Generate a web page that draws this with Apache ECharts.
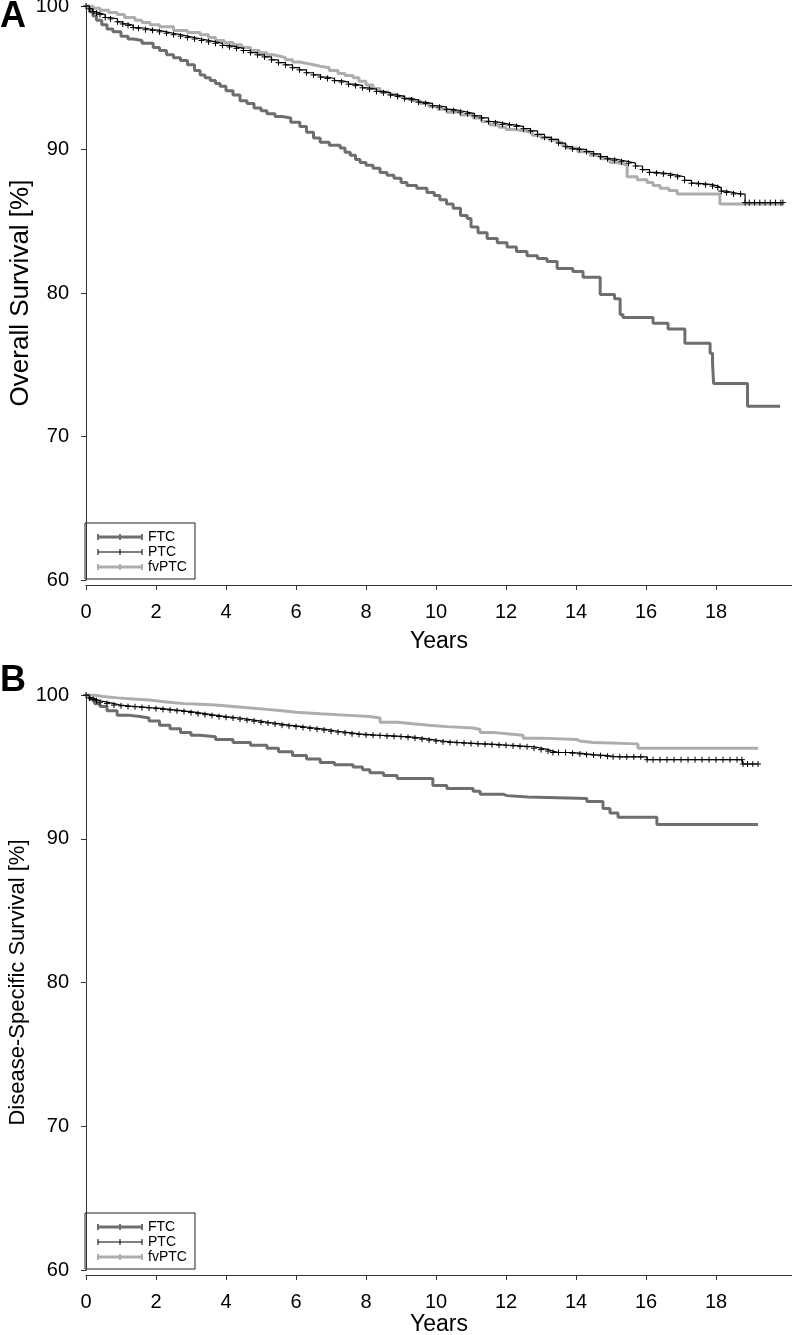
<!DOCTYPE html>
<html>
<head>
<meta charset="utf-8">
<script src="https://cdn.jsdelivr.net/npm/echarts@6/dist/echarts.min.js"></script>
<style>
  html, body { margin: 0; padding: 0; background: #fff; }
  #chart { width: 792px; height: 1335px; }
</style>
</head>
<body>
<div id="chart"></div>
<script>
// ---------- DATA ----------
const seriesNames = ['FTC', 'PTC', 'fvPTC'];
const xTicks = [0, 2, 4, 6, 8, 10, 12, 14, 16, 18];

// Panel A: Overall survival [%] vs years  ([years, survival])
const ftcOS = [[0,100],[0.1,99.6],[0.2,99.3],[0.3,99.0],[0.45,98.7],[0.6,98.4],[0.77,98.2],[1.0,97.9],[1.2,97.7],[1.35,97.6],[1.6,97.4],[1.92,97.1],[2.1,96.9],[2.3,96.6],[2.5,96.4],[2.7,96.2],[2.9,95.9],[3.1,95.5],[3.26,95.2],[3.4,95.0],[3.55,94.8],[3.7,94.6],[3.83,94.4],[4.0,94.1],[4.2,93.8],[4.4,93.4],[4.6,93.2],[4.8,92.9],[5.0,92.7],[5.17,92.5],[5.4,92.3],[5.6,92.2],[5.85,91.9],[6.11,91.6],[6.3,91.2],[6.5,90.8],[6.69,90.5],[6.95,90.3],[7.26,90.1],[7.4,89.8],[7.55,89.6],[7.7,89.3],[7.83,89.1],[8.0,88.9],[8.2,88.7],[8.4,88.4],[8.6,88.2],[8.8,88.0],[9.0,87.7],[9.17,87.5],[9.45,87.3],[9.74,87.0],[9.95,86.8],[10.11,86.5],[10.3,86.2],[10.49,85.9],[10.7,85.4],[10.89,85.2],[11.0,84.6],[11.2,84.2],[11.46,83.8],[11.75,83.5],[12.03,83.2],[12.3,82.9],[12.6,82.6],[12.9,82.4],[13.17,82.2],[13.46,81.7],[13.91,81.5],[14.2,81.1],[14.69,79.9],[15.1,79.6],[15.26,78.5],[15.34,78.3],[16.2,77.9],[16.63,77.5],[17.11,76.5],[17.83,75.8],[17.9,75.1],[17.93,73.7],[18.9,72.1],[19.83,72.1]];
const ptcOS = [[0,100],[0.1,99.8],[0.2,99.6],[0.3,99.5],[0.4,99.4],[0.55,99.2],[0.7,99.1],[0.9,98.9],[1.05,98.75],[1.2,98.65],[1.35,98.5],[1.5,98.45],[1.7,98.35],[1.9,98.3],[2.1,98.2],[2.3,98.1],[2.5,98.0],[2.7,97.9],[2.9,97.8],[3.1,97.7],[3.3,97.6],[3.5,97.5],[3.7,97.4],[3.9,97.25],[4.1,97.15],[4.3,97.05],[4.5,96.9],[4.7,96.75],[4.9,96.6],[5.1,96.45],[5.3,96.25],[5.5,96.05],[5.7,95.9],[5.9,95.7],[6.1,95.55],[6.3,95.35],[6.5,95.2],[6.7,95.05],[6.9,94.95],[7.1,94.8],[7.3,94.7],[7.5,94.55],[7.7,94.45],[7.9,94.3],[8.1,94.2],[8.3,94.05],[8.5,93.95],[8.7,93.8],[8.9,93.7],[9.1,93.55],[9.3,93.45],[9.5,93.3],[9.7,93.2],[9.9,93.05],[10.1,92.95],[10.3,92.8],[10.5,92.7],[10.7,92.6],[10.9,92.5],[11.1,92.35],[11.3,92.2],[11.5,91.95],[11.7,91.85],[11.9,91.75],[12.1,91.7],[12.3,91.6],[12.5,91.45],[12.7,91.3],[12.9,91.05],[13.1,90.85],[13.3,90.7],[13.5,90.45],[13.7,90.2],[13.9,90.05],[14.1,90.0],[14.3,89.85],[14.5,89.7],[14.7,89.5],[14.9,89.35],[15.1,89.25],[15.3,89.15],[15.5,89.05],[15.7,88.85],[15.9,88.6],[16.1,88.4],[16.3,88.35],[16.5,88.3],[16.7,88.2],[16.9,88.1],[17.1,87.85],[17.3,87.65],[17.5,87.6],[17.7,87.55],[17.9,87.45],[18.05,87.35],[18.15,87.1],[18.3,87.0],[18.5,86.9],[18.7,86.9],[18.83,86.3],[18.95,86.3],[19.1,86.3],[19.25,86.3],[19.4,86.3],[19.55,86.3],[19.7,86.3],[19.85,86.3],[19.91,86.3]];
const fvptcOS = [[0,100],[0.2,99.85],[0.4,99.7],[0.65,99.55],[0.89,99.4],[1.1,99.2],[1.4,99.0],[1.6,98.85],[1.83,98.7],[2.1,98.55],[2.5,98.3],[2.9,98.15],[3.26,98.0],[3.5,97.8],[3.7,97.6],[3.95,97.45],[4.2,97.3],[4.45,97.1],[4.7,96.9],[4.95,96.75],[5.17,96.6],[5.35,96.5],[5.54,96.4],[5.7,96.25],[5.9,96.1],[6.1,96.0],[6.3,95.9],[6.5,95.8],[6.69,95.7],[6.95,95.5],[7.2,95.3],[7.4,95.15],[7.63,95.0],[7.8,94.75],[8.0,94.5],[8.2,94.25],[8.4,94.0],[8.65,93.85],[8.9,93.7],[9.1,93.55],[9.34,93.4],[9.55,93.2],[9.8,93.0],[10.05,92.8],[10.31,92.6],[10.7,92.4],[11.06,92.2],[11.3,91.95],[11.54,91.7],[11.8,91.55],[12.0,91.4],[12.25,91.3],[12.49,91.2],[12.75,91.0],[13.0,90.8],[13.25,90.65],[13.46,90.5],[13.6,90.3],[13.74,90.1],[14.05,89.85],[14.4,89.6],[14.7,89.35],[14.97,89.1],[15.15,89.0],[15.34,88.9],[15.46,88.1],[15.75,87.9],[16.03,87.7],[16.2,87.5],[16.4,87.3],[16.65,87.15],[16.89,86.9],[18.11,86.2],[19.91,86.2]];

// Panel B: Disease-specific survival [%] vs years
const ftcDSS = [[0,100],[0.1,99.7],[0.25,99.4],[0.4,99.2],[0.6,98.9],[0.89,98.6],[1.2,98.5],[1.54,98.4],[1.8,98.2],[2.1,97.9],[2.4,97.65],[2.7,97.4],[3.0,97.2],[3.26,97.1],[3.7,96.9],[4.2,96.7],[4.7,96.5],[5.17,96.3],[5.5,96.05],[5.9,95.8],[6.3,95.55],[6.69,95.3],[7.1,95.15],[7.63,95.0],[7.9,94.8],[8.11,94.6],[8.5,94.4],[8.89,94.2],[9.91,93.7],[10.31,93.5],[11.06,93.3],[11.26,93.1],[11.91,93.0],[12.03,92.9],[12.63,92.8],[14.31,92.6],[14.77,92.1],[14.97,91.8],[15.2,91.5],[16.31,91.0],[19.2,91.0]];
const ptcDSS = [[0,100],[0.1,99.8],[0.2,99.7],[0.3,99.6],[0.4,99.5],[0.6,99.4],[0.8,99.3],[1.0,99.25],[1.2,99.2],[1.4,99.18],[1.6,99.13],[1.8,99.1],[2.0,99.05],[2.2,99.0],[2.4,98.95],[2.6,98.9],[2.8,98.85],[3.0,98.78],[3.2,98.7],[3.4,98.63],[3.6,98.57],[3.8,98.5],[4.0,98.45],[4.2,98.4],[4.4,98.32],[4.6,98.25],[4.8,98.18],[5.0,98.1],[5.2,98.05],[5.4,97.98],[5.6,97.9],[5.8,97.85],[6.0,97.8],[6.2,97.74],[6.4,97.68],[6.6,97.62],[6.8,97.56],[7.0,97.48],[7.2,97.42],[7.4,97.36],[7.6,97.3],[7.8,97.26],[8.0,97.22],[8.2,97.2],[8.4,97.18],[8.6,97.15],[8.8,97.12],[9.0,97.1],[9.2,97.05],[9.4,97.0],[9.6,96.93],[9.8,96.86],[10.0,96.8],[10.2,96.74],[10.4,96.7],[10.6,96.68],[10.8,96.65],[11.0,96.62],[11.2,96.6],[11.4,96.58],[11.6,96.55],[11.8,96.52],[12.0,96.5],[12.2,96.46],[12.4,96.43],[12.6,96.4],[12.8,96.3],[13.0,96.2],[13.2,96.1],[13.34,96.0],[13.5,96.0],[13.7,96.0],[13.9,95.95],[14.11,95.9],[14.3,95.85],[14.5,95.82],[14.7,95.78],[14.9,95.74],[15.06,95.7],[15.25,95.7],[15.45,95.7],[15.65,95.7],[15.85,95.7],[16.03,95.5],[16.2,95.5],[16.4,95.5],[16.6,95.5],[16.8,95.5],[17.0,95.5],[17.2,95.5],[17.4,95.5],[17.6,95.5],[17.8,95.5],[18.0,95.5],[18.2,95.5],[18.4,95.5],[18.6,95.5],[18.74,95.5],[18.77,95.2],[18.9,95.2],[19.05,95.2],[19.2,95.2]];
const fvptcDSS = [[0,100],[0.2,99.9],[0.5,99.8],[0.9,99.72],[1.35,99.65],[1.8,99.52],[2.3,99.4],[2.8,99.35],[3.26,99.3],[3.7,99.2],[4.2,99.1],[4.7,99.0],[5.17,98.9],[5.6,98.8],[6.0,98.7],[6.69,98.6],[7.4,98.5],[8.11,98.4],[8.4,98.1],[8.9,98.0],[9.34,97.9],[9.8,97.8],[10.31,97.7],[11.06,97.6],[11.26,97.4],[11.6,97.3],[12.03,97.2],[12.49,97.0],[12.97,96.9],[14.03,96.8],[14.11,96.7],[14.49,96.6],[15.77,96.3],[19.2,96.3]];

// ---------- STYLE ----------
const FONT = 'Liberation Sans, Arial, Helvetica, sans-serif';
const colors = { FTC: '#6e6e6e', PTC: '#000000', fvPTC: '#adadad' };
const widths = { FTC: 3, PTC: 1.2, fvPTC: 3 };
const plusSymbol = 'path://M0,5L10,5M5,0L5,10';

function xAxisCfg(gridIndex, labelMargin, nameGap) {
  return {
    type: 'value', gridIndex, min: 0, max: 20.17, offset: 5,
    name: 'Years', nameLocation: 'middle', nameGap, nameMoveOverlap: false,
    nameTextStyle: { fontFamily: FONT, fontSize: 23, color: '#000' },
    axisLine: { show: true, lineStyle: { color: '#333', width: 1 } },
    axisTick: { show: true, length: 5, customValues: xTicks, lineStyle: { color: '#333' } },
    axisLabel: { customValues: xTicks, margin: labelMargin, fontFamily: FONT, fontSize: 20, color: '#000' },
    splitLine: { show: false }
  };
}
function yAxisCfg(gridIndex, name, nameSize, nameGap) {
  return {
    type: 'value', gridIndex, min: 60, max: 100, interval: 10, offset: 5,
    name, nameLocation: 'middle', nameGap, nameMoveOverlap: false,
    nameTextStyle: { fontFamily: FONT, fontSize: nameSize, color: '#000' },
    axisLine: { show: true, lineStyle: { color: '#333', width: 1 } },
    axisTick: { show: true, length: 5, lineStyle: { color: '#333' } },
    axisLabel: { margin: 12, fontFamily: FONT, fontSize: 20, color: '#000' },
    splitLine: { show: false }
  };
}
function km(name, data, idx) {
  const isPTC = name === 'PTC';
  return {
    type: 'line', name, data, xAxisIndex: idx, yAxisIndex: idx,
    step: 'end', silent: true,
    showSymbol: isPTC, symbol: plusSymbol, symbolSize: 6,
    itemStyle: { color: colors[name], borderColor: colors[name], borderWidth: 1 },
    lineStyle: { color: colors[name], width: widths[name] },
    z: isPTC ? 4 : (name === 'fvPTC' ? 3 : 2)
  };
}
function legendGroup(x, y) {
  const children = [{
    type: 'rect', shape: { x: 0, y: 0, width: 110, height: 56 },
    style: { fill: '#fff', stroke: '#222', lineWidth: 1 }
  }];
  seriesNames.forEach((n, i) => {
    const yy = 14 + 15 * i;
    children.push({ type: 'line', shape: { x1: 13, y1: yy, x2: 57, y2: yy },
      style: { stroke: colors[n], lineWidth: widths[n] } });
    [13, 35, 57].forEach(mx => children.push({ type: 'line',
      shape: { x1: mx, y1: yy - 3, x2: mx, y2: yy + 3 },
      style: { stroke: colors[n], lineWidth: n === 'PTC' ? 1 : 2 } }));
    children.push({ type: 'text', x: 63, y: yy,
      style: { text: n, font: '14px ' + FONT, fill: '#000', verticalAlign: 'middle', align: 'left' } });
  });
  return { type: 'group', x, y, silent: true, z: 10, children };
}

const chart = echarts.init(document.getElementById('chart'), null, { renderer: 'canvas' });
chart.setOption({
  animation: false,
  backgroundColor: '#fff',
  grid: [
    { left: 86, top: 6, width: 706, height: 574, containLabel: false, outerBoundsMode: 'none' },
    { left: 86, top: 695, width: 706, height: 575, containLabel: false, outerBoundsMode: 'none' }
  ],
  xAxis: [xAxisCfg(0, 17, 45), xAxisCfg(1, 17, 38)],
  yAxis: [yAxisCfg(0, 'Overall Survival [%]', 26, 47), yAxisCfg(1, 'Disease-Specific Survival [%]', 22, 52)],
  series: [
    km('FTC', ftcOS, 0), km('fvPTC', fvptcOS, 0), km('PTC', ptcOS, 0),
    km('FTC', ftcDSS, 1), km('fvPTC', fvptcDSS, 1), km('PTC', ptcDSS, 1)
  ],
  graphic: [
    { type: 'text', x: 0, y: -1, silent: true,
      style: { text: 'A', font: 'bold 36px ' + FONT, fill: '#000', verticalAlign: 'top' } },
    { type: 'text', x: 0, y: 663, silent: true,
      style: { text: 'B', font: 'bold 36px ' + FONT, fill: '#000', verticalAlign: 'top' } },
    legendGroup(85, 523),
    legendGroup(85, 1213)
  ]
});
</script>
</body>
</html>
